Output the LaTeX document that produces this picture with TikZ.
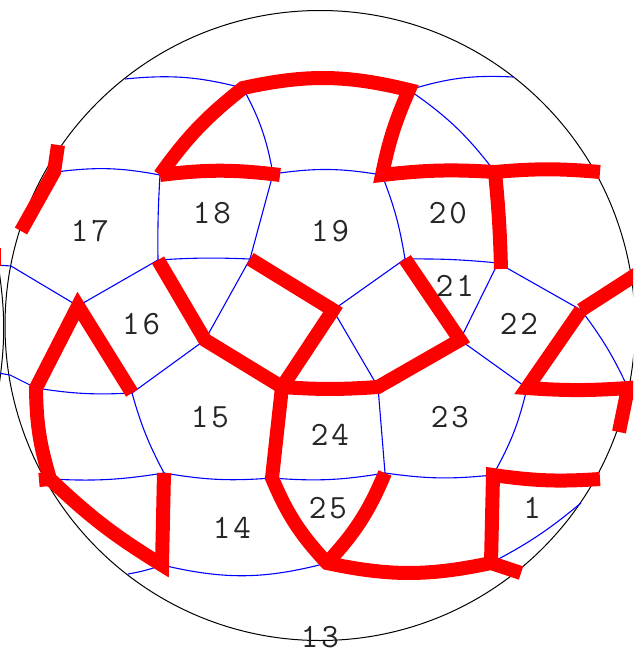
\documentclass[tikz,border=0pt]{standalone}
\usepackage{tikz}
\usetikzlibrary{positioning}
\newcommand{\numgap}{\kern3pt}

\begin{document}
\begin{tikzpicture}[
    x=1pt, y=-1pt,
    rim/.style={draw=black, line width=1pt},
    edge/.style={draw=blue, line width=1.1pt},
    cut/.style={draw=red, line width=14pt, line cap=butt, line join=miter},
    num/.style={font=\fontsize{34}{34}\fontseries{l}\selectfont\ttfamily, text=black!85, inner sep=0pt}
]
\useasboundingbox (0,0) rectangle (633,650);
\clip (0,0) rectangle (633,650);

% Vertices
\coordinate (t1) at (125,79);
\coordinate (t2) at (243,88);
\coordinate (t3) at (409,90);
\coordinate (t4) at (513,77);
\coordinate (a0) at (56,172);
\coordinate (a1) at (160,175);
\coordinate (a2) at (273,174);
\coordinate (a2r) at (280,175);
\coordinate (a3) at (382,175);
\coordinate (a4) at (495,172);
\coordinate (a5) at (600,172);
\coordinate (b1) at (158,260);
\coordinate (b2) at (250,259);
\coordinate (b3) at (405,259);
\coordinate (b4) at (498,263);
\coordinate (b4r) at (501,269);
\coordinate (c0) at (78,306);
\coordinate (c1) at (205,340);
\coordinate (c2) at (333,310);
\coordinate (c3) at (460,340);
\coordinate (c4) at (581,310);
\coordinate (d0) at (36,388);
\coordinate (d1) at (132,393);
\coordinate (d2) at (282,387);
\coordinate (d3) at (378,387);
\coordinate (d4) at (527,388);
\coordinate (d5) at (628,388);
\coordinate (e0) at (50,479);
\coordinate (e1) at (164,473);
\coordinate (e2) at (272,478);
\coordinate (e3) at (385,473);
\coordinate (e4) at (493,475);
\coordinate (e5) at (600,479);
\coordinate (f1) at (162,565);
\coordinate (f2) at (327,563);
\coordinate (f3) at (491,563);
\coordinate (f4) at (128,574);
\coordinate (f5) at (581,503);

% Outer outline
\draw[rim] (320,325.5) circle (315);
\draw[rim] (-1,270) to[bend left=8] (-1,386);

% Thin edges
\draw[edge] (t1) to[bend left=10] (t2) to[bend left=9] (a2);
\draw[edge] (t3) to[bend left=10] (t4);
\draw[edge] (t3) to[bend left=9] (a4);
\draw[edge] (a0) to[bend left=9] (a1) to[bend right=2] (b1);
\draw[edge] (a2) to[bend left=9] (a3) to[bend left=6] (b3);
\draw[edge] (a2) -- (b2);
\draw[edge] (b1) to[bend left=3] (b2);
\draw[edge] (b3) to[bend left=3] (b4);
\draw[edge] (b1) -- (c0) -- (11,266) -- (-4,265);
\draw[edge] (b2) -- (c1) -- (d1);
\draw[edge] (b3) -- (c2) -- (d3);
\draw[edge] (b4) -- (c3) -- (d4);
\draw[edge] (b4) -- (c4) to[bend left=6] (d5);
\draw[edge] (d0) to[bend right=6] (d1) to[bend right=6] (e1);
\draw[edge] (d0) -- (10,375) -- (-2,373);
\draw[edge] (d3) -- (e3);
\draw[edge] (d4) to[bend left=8] (e4);
\draw[edge] (e0) to[bend right=6] (e1) to[bend right=7] (e2) to[bend right=7] (e3) to[bend right=7] (e4);
\draw[edge] (f4) to[bend right=5] (f1) to[bend right=14] (f2);
\draw[edge] (f3) to[bend right=6] (f5);

% Thick edges
\draw[cut] (a1) to[bend left=8] (t2) to[bend left=13] (t3) to[bend right=6] (a3) to[bend left=5] (a4) to[bend left=5] (a5);
\draw[cut] (a1) to[bend left=7] (a2r);
\draw[cut] (a4) to[bend left=2] (b4r);
\draw[cut] (58,145) -- (54,172) -- (21,231);
\draw[cut] (b1) -- (c1) -- (d2) -- (c2) -- (b2);
\draw[cut] (d2) to[bend right=4] (d3) -- (c3) -- (b3);
\draw[cut] (d2) -- (e2) to[bend right=10] (f2) to[bend right=12] (f3) -- (521,573);
\draw[cut] (f2) to[bend right=10] (e3);
\draw[cut] (f3) -- (e4) to[bend right=6] (e5);
\draw[cut] (c4) -- (640,272);
\draw[cut] (c4) -- (d4) to[bend right=4] (d5) -- (619,432);
\draw[cut] (d1) -- (c0) -- (d0) to[bend right=8] (e0) to[bend right=6] (f1) -- (e1);
\draw[cut] (39,480) -- (e0);
\draw[cut] (-6,248) -- (-6,266);

% Cell numbers
\node[num] (n17) at (90,231) {1\numgap 7};
\node[num] (n18) at (212,213) {1\numgap 8};
\node[num] (n19) at (330,231) {1\numgap 9};
\node[num] (n20) at (448,213) {2\numgap 0};
\node[num] (n21) at (455,286) {2\numgap 1};
\node[num] (n22) at (519,324) {2\numgap 2};
\node[num] (n16) at (141,324) {1\numgap 6};
\node[num] (n15) at (210,417) {1\numgap 5};
\node[num] (n23) at (450,417) {2\numgap 3};
\node[num] (n24) at (330,435) {2\numgap 4};
\node[num] (n25) at (328,508) {2\numgap 5};
\node[num] (n14) at (232,528) {1\numgap 4};
\node[num] (n1) at (532,508) {1};
\node[num] (n13) at (320,637) {1\numgap 3};

\end{tikzpicture}
\end{document}
